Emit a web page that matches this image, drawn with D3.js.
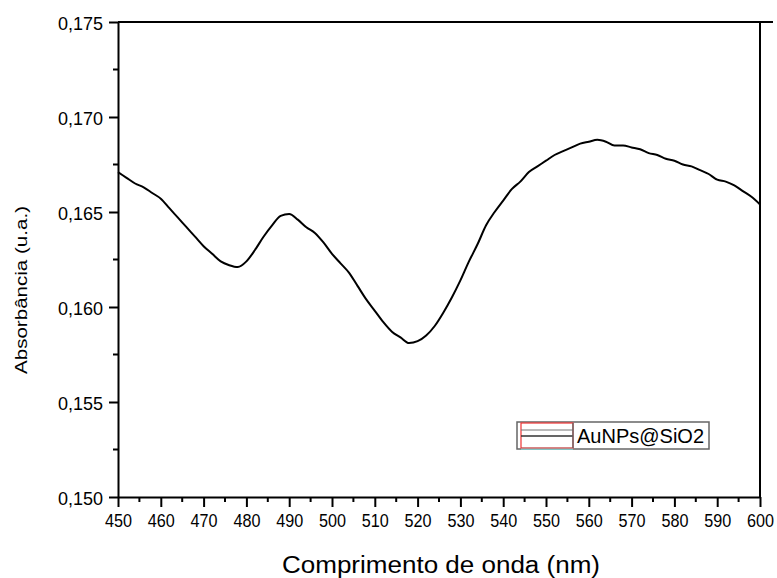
<!DOCTYPE html>
<html>
<head>
<meta charset="utf-8">
<script src="https://cdn.jsdelivr.net/npm/d3@7/dist/d3.min.js"></script>
<style>
  html, body { margin: 0; padding: 0; background: #fff; }
  svg { display: block; }
  text { font-family: Arial, "Liberation Sans", sans-serif; fill: #000; }
</style>
</head>
<body>
<svg id="chart" width="777" height="578"></svg>
<script>
// ---- Data ----
const wavelengths = [450,452,454,456,458,460,462,464,466,468,470,472,474,476,478,480,482,484,486,488,
  490,492,494,496,498,500,502,504,506,508,510,512,514,516,518,520,522,524,526,528,
  530,532,534,536,538,540,542,544,546,548,550,552,554,556,558,560,562,564,566,568,
  570,572,574,576,578,580,582,584,586,588,590,592,594,596,598,600];
const absorbance = [0.1671,0.1668,0.1665,0.1663,0.1660,0.1657,0.1652,0.1647,0.1642,0.1637,
  0.1632,0.1628,0.1624,0.1622,0.1621,0.1624,0.1630,0.1637,0.1643,0.1648,
  0.1649,0.1646,0.1642,0.1639,0.1634,0.1628,0.1623,0.1618,0.1611,0.1604,
  0.1598,0.1592,0.1587,0.1584,0.1581,0.1582,0.1585,0.1590,0.1597,0.1605,
  0.1614,0.1624,0.1633,0.1643,0.1650,0.1656,0.1662,0.1666,0.1671,0.1674,
  0.1677,0.1680,0.1682,0.1684,0.1686,0.1687,0.1688,0.1687,0.1685,0.1685,
  0.1684,0.1683,0.1681,0.1680,0.1678,0.1677,0.1675,0.1674,0.1672,0.1670,
  0.1667,0.1666,0.1664,0.1661,0.1658,0.1654];
const seriesName = "AuNPs@SiO2";
const xTicks = [450,460,470,480,490,500,510,520,530,540,550,560,570,580,590,600];
const yTicks = [0.150,0.155,0.160,0.165,0.170,0.175];
const xTitle = "Comprimento de onda (nm)";
const yTitle = "Absorbância (u.a.)";

// ---- Layout ----
const svg = d3.select("#chart");
const L = 118, R = 760, T = 22, B = 497;
const x = d3.scaleLinear().domain([450, 600]).range([L, R]);
const y = d3.scaleLinear().domain([0.150, 0.175]).range([B, T]);
const fmt = d => d3.format(".3f")(d).replace(".", ",");

// Frame: top line extends slightly beyond right axis
svg.append("line").attr("x1", L).attr("x2", 773).attr("y1", T).attr("y2", T)
  .attr("stroke", "#000").attr("stroke-width", 2);
svg.append("line").attr("x1", R).attr("x2", R).attr("y1", T).attr("y2", B)
  .attr("stroke", "#000").attr("stroke-width", 2);

// X axis
const xMinor = d3.range(455, 600, 10);
const gx = svg.append("g").attr("transform", `translate(0,${B})`)
  .call(d3.axisBottom(x).tickValues(xTicks).tickSize(10).tickSizeOuter(0).tickPadding(7).tickFormat(d3.format("d")));
gx.select(".domain").attr("stroke-width", 2);
gx.selectAll(".tick line").attr("stroke-width", 2);
gx.selectAll(".tick text")
  .attr("font-size", 19)
  .attr("textLength", 27).attr("lengthAdjust", "spacingAndGlyphs")
  .attr("font-family", "'Liberation Sans Narrow', Arial, sans-serif");
svg.append("g").selectAll("line").data(xMinor).join("line")
  .attr("x1", d => x(d)).attr("x2", d => x(d)).attr("y1", B).attr("y2", B + 5)
  .attr("stroke", "#000").attr("stroke-width", 2);

// Y axis
const yMinor = d3.range(0.1525, 0.175, 0.005);
const gy = svg.append("g").attr("transform", `translate(${L},0)`)
  .call(d3.axisLeft(y).tickValues(yTicks).tickSize(9).tickSizeOuter(0).tickPadding(6).tickFormat(fmt));
gy.select(".domain").attr("stroke-width", 2);
gy.selectAll(".tick line").attr("stroke-width", 2);
gy.selectAll(".tick text").attr("font-size", 18).attr("dy", "0.4em");
svg.append("g").selectAll("line").data(yMinor).join("line")
  .attr("x1", L - 5).attr("x2", L).attr("y1", d => y(d)).attr("y2", d => y(d))
  .attr("stroke", "#000").attr("stroke-width", 2);

// Titles
svg.append("text").attr("x", 441).attr("y", 573).attr("text-anchor", "middle")
  .attr("font-size", 23).attr("textLength", 318).attr("lengthAdjust", "spacingAndGlyphs")
  .text(xTitle);
svg.append("text").attr("transform", "translate(27,290) rotate(-90)").attr("text-anchor", "middle")
  .attr("font-size", 17).attr("textLength", 168).attr("lengthAdjust", "spacingAndGlyphs")
  .text(yTitle);

// Data line
const pts = wavelengths.map((w, i) => [w, absorbance[i]]);
svg.append("path").datum(pts)
  .attr("fill", "none").attr("stroke", "#000").attr("stroke-width", 2)
  .attr("stroke-linejoin", "round")
  .attr("d", d3.line().curve(d3.curveMonotoneX).x(d => x(d[0])).y(d => y(d[1])));

// Legend
const lg = svg.append("g");
lg.append("rect").attr("x", 517).attr("y", 422).attr("width", 192).attr("height", 27)
  .attr("fill", "#fff").attr("stroke", "#666").attr("stroke-width", 1.5);
lg.append("line").attr("x1", 521).attr("x2", 573).attr("y1", 448.5).attr("y2", 448.5)
  .attr("stroke", "#7ff").attr("stroke-width", 2);
lg.append("rect").attr("x", 521).attr("y", 423).attr("width", 52).attr("height", 25)
  .attr("fill", "none").attr("stroke", "#e33").attr("stroke-width", 1.2);
lg.append("line").attr("x1", 521).attr("x2", 573).attr("y1", 430).attr("y2", 430)
  .attr("stroke", "#777").attr("stroke-width", 1.2);
lg.append("line").attr("x1", 521).attr("x2", 573).attr("y1", 436).attr("y2", 436)
  .attr("stroke", "#333").attr("stroke-width", 1.4);
lg.append("line").attr("x1", 573).attr("x2", 573).attr("y1", 423).attr("y2", 448)
  .attr("stroke", "#666").attr("stroke-width", 1.4);
lg.append("text").attr("x", 577).attr("y", 443).attr("font-size", 20).text(seriesName);
</script>
</body>
</html>
